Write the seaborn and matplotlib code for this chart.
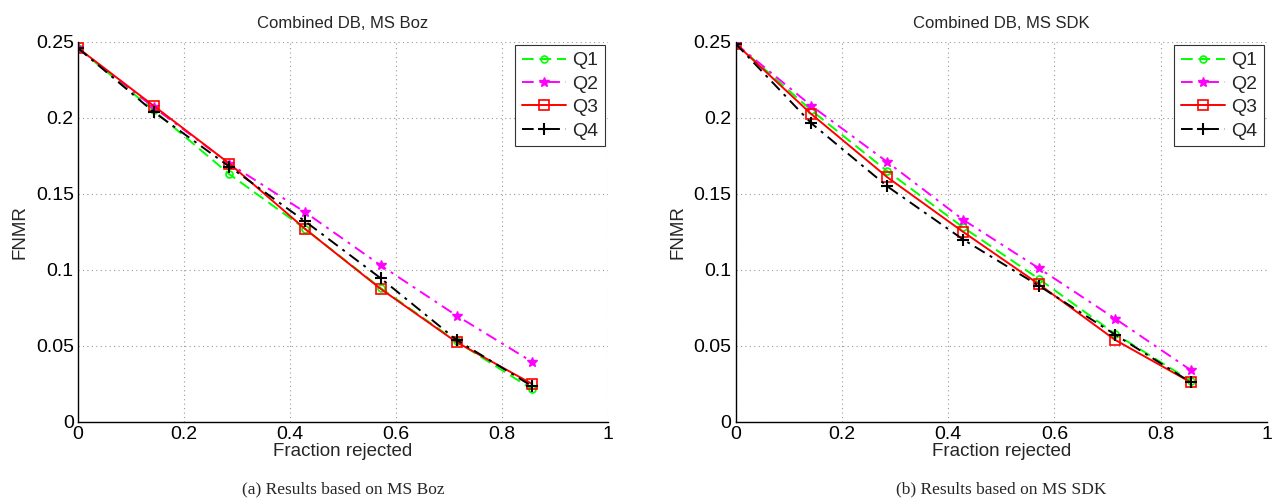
import numpy as np
import pandas as pd
import matplotlib
matplotlib.use("Agg")
import matplotlib.pyplot as plt
import seaborn as sns

# ---- data ----
fraction = [0, 1/7, 2/7, 3/7, 4/7, 5/7, 6/7]
series_names = ["Q1", "Q2", "Q3", "Q4"]

boz_q1 = [0.246, 0.205, 0.163, 0.127, 0.088, 0.053, 0.0215]
boz_q2 = [0.246, 0.207, 0.170, 0.138, 0.103, 0.070, 0.0395]
boz_q3 = [0.246, 0.208, 0.170, 0.127, 0.0875, 0.0525, 0.025]
boz_q4 = [0.246, 0.204, 0.168, 0.132, 0.0945, 0.054, 0.0235]

sdk_q1 = [0.249, 0.205, 0.165, 0.128, 0.094, 0.058, 0.027]
sdk_q2 = [0.249, 0.208, 0.171, 0.133, 0.101, 0.068, 0.034]
sdk_q3 = [0.249, 0.2025, 0.161, 0.125, 0.0905, 0.054, 0.026]
sdk_q4 = [0.249, 0.1965, 0.155, 0.120, 0.0895, 0.0575, 0.026]

titles = ["Combined DB, MS Boz", "Combined DB, MS SDK"]
captions = ["(a) Results based on MS Boz", "(b) Results based on MS SDK"]
xlabel = "Fraction rejected"
ylabel = "FNMR"

panels = [
    [boz_q1, boz_q2, boz_q3, boz_q4],
    [sdk_q1, sdk_q2, sdk_q3, sdk_q4],
]

styles = {
    "Q1": dict(color="#00ff00", linestyle=(0, (6, 3)), marker="o", mfc="none", ms=5, mew=1.2),
    "Q2": dict(color="#ff00ff", linestyle=(0, (6, 3, 1.5, 3)), marker="*", mfc="#ff00ff", ms=7, mew=1.0),
    "Q3": dict(color="#ff0000", linestyle="-", marker="s", mfc="none", ms=7, mew=1.2),
    "Q4": dict(color="#000000", linestyle=(0, (6, 3, 1.5, 3)), marker="+", mfc="none", ms=8, mew=1.5),
}

sns.set_theme(style="white")
plt.rcParams["font.family"] = ["Liberation Sans", "DejaVu Sans"]

fig = plt.figure(figsize=(12.75, 5.04), dpi=100)
W, H = 1275, 504
axes_px = [(78, 42, 608, 422), (735.5, 42, 1267, 422)]

for i, (x0, y0, x1, y1) in enumerate(axes_px):
    ax = fig.add_axes([x0 / W, 1 - y1 / H, (x1 - x0) / W, (y1 - y0) / H])
    for name, vals in zip(series_names, panels[i]):
        df = pd.DataFrame({"x": fraction, "y": vals})
        st = styles[name]
        sns.lineplot(data=df, x="x", y="y", ax=ax, color=st["color"],
                     linestyle=st["linestyle"], marker=st["marker"],
                     markerfacecolor=st["mfc"], markeredgecolor=st["color"],
                     markersize=st["ms"], markeredgewidth=st["mew"],
                     linewidth=1.4, label=name)
    ax.set_xlim(0, 1)
    ax.set_ylim(0, 0.25)
    ax.set_xticks([0, 0.2, 0.4, 0.6, 0.8, 1])
    ax.set_xticklabels(["0", "0.2", "0.4", "0.6", "0.8", "1"])
    ax.set_yticks([0, 0.05, 0.1, 0.15, 0.2, 0.25])
    ax.set_yticklabels(["0", "0.05", "0.1", "0.15", "0.2", "0.25"])
    ax.tick_params(direction="in", length=5, labelsize=14, colors="black", pad=3)
    ax.grid(True, linestyle=(0, (1, 3)), color="#999999", linewidth=0.8)
    for s in ["top", "right"]:
        ax.spines[s].set_visible(False)
    for s in ["left", "bottom"]:
        ax.spines[s].set_color("black")
        ax.spines[s].set_linewidth(1.0)
    ax.set_title(titles[i], fontsize=12, pad=10)
    ax.set_xlabel(xlabel, fontsize=13.5, labelpad=0)
    ax.set_ylabel(ylabel, fontsize=13.5, labelpad=5)
    leg = ax.legend(loc="upper right", fontsize=14, frameon=True, fancybox=False,
                    edgecolor="#333333", framealpha=1, handlelength=2.3,
                    handletextpad=0.3, borderpad=0.35, labelspacing=0.3,
                    borderaxespad=0.15)
    leg.get_frame().set_linewidth(0.8)
    fig.text(((x0 + x1) / 2) / W, 1 - 489 / H, captions[i], ha="center", va="center",
             fontsize=12.5, family=["Liberation Serif", "DejaVu Serif"])

fig.savefig("out.png", dpi=100)
